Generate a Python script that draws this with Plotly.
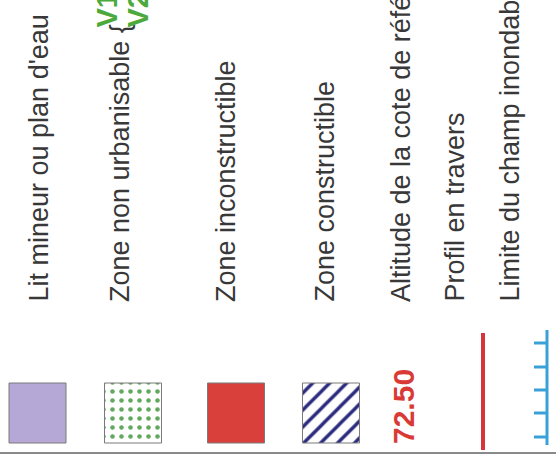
import plotly.graph_objects as go

# Legend entries of a flood-zone map, scanned sideways
labels = [
    "Lit mineur ou plan d'eau",
    "Zone non urbanisable {",
    "Zone inconstructible",
    "Zone constructible",
    "Altitude de la cote de référence",
    "Profil en travers",
    "Limite du champ inondable",
]
sub_labels = ["V1", "V2"]
ref_altitude = "72.50"

swatch_fill = ["#b5a7d6", "white", "#d9403b", "white"]
swatch_pattern = ["", ".", "", "/"]
swatch_ink = ["#b5a7d6", "#62a85e", "#d9403b", "#2a2a7e"]

# layout (pixel space, y downward)
label_x = [38, 120, 226, 324, 401, 454, 509]
swatch_x = [37.5, 133, 236, 331]
sub_x = [107, 138]
tick_y = [343, 367, 390, 413, 437]

fig = go.Figure()

for sx, fill, pat, ink, size, sol in zip(swatch_x, swatch_fill, swatch_pattern,
                                         swatch_ink, [10, 9, 10, 12],
                                         [0.3, 0.2, 0.3, 0.28]):
    fig.add_trace(go.Bar(
        x=[sx], y=[60], base=[383], width=57,
        marker=dict(
            color=fill,
            line=dict(color="#7a7a7a", width=1),
            pattern=dict(shape=pat, fgcolor=ink, fgopacity=1,
                         size=size, solidity=sol),
        ),
        hoverinfo="skip",
    ))

# profil en travers
fig.add_trace(go.Scatter(
    x=[483, 483], y=[333, 450], mode="lines",
    line=dict(color="#d8343c", width=4), hoverinfo="skip",
))

# limite du champ inondable (line with ticks)
bx, by = [547, 547, None], [330, 445, None]
for ty in tick_y:
    bx += [534, 547, None]
    by += [ty, ty, None]
fig.add_trace(go.Scatter(
    x=bx, y=by, mode="lines", connectgaps=False,
    line=dict(color="#3aa0d8", width=3), hoverinfo="skip",
))

for lx, txt in zip(label_x, labels):
    fig.add_annotation(
        x=lx, y=304, text=txt, textangle=-90,
        xanchor="center", yanchor="bottom", showarrow=False,
        font=dict(family="Liberation Sans, Arial", size=27, color="#383838"),
    )

for sx, txt in zip(sub_x, sub_labels):
    fig.add_annotation(
        x=sx, y=30, text="<b>%s</b>" % txt, textangle=-90,
        xanchor="center", yanchor="bottom", showarrow=False,
        font=dict(family="Liberation Sans, Arial", size=29, color="#4caa3c"),
    )

fig.add_annotation(
    x=403, y=407, text="<b>%s</b>" % ref_altitude, textangle=-90,
    xanchor="center", yanchor="middle", showarrow=False,
    font=dict(family="Liberation Sans, Arial", size=30, color="#d93a35"),
)

fig.add_shape(
    type="line", x0=0, x1=556, y0=453, y1=453,
    line=dict(color="#8a8a8a", width=2),
)

fig.update_layout(
    width=556, height=456,
    margin=dict(l=0, r=0, t=0, b=0),
    showlegend=False,
    barmode="overlay",
    plot_bgcolor="white",
    paper_bgcolor="white",
    xaxis=dict(range=[0, 556], visible=False, fixedrange=True),
    yaxis=dict(range=[456, 0], visible=False, fixedrange=True),
)

fig.write_html("out.html", config={"displayModeBar": False},
               post_script="document.body.style.margin='0';")
